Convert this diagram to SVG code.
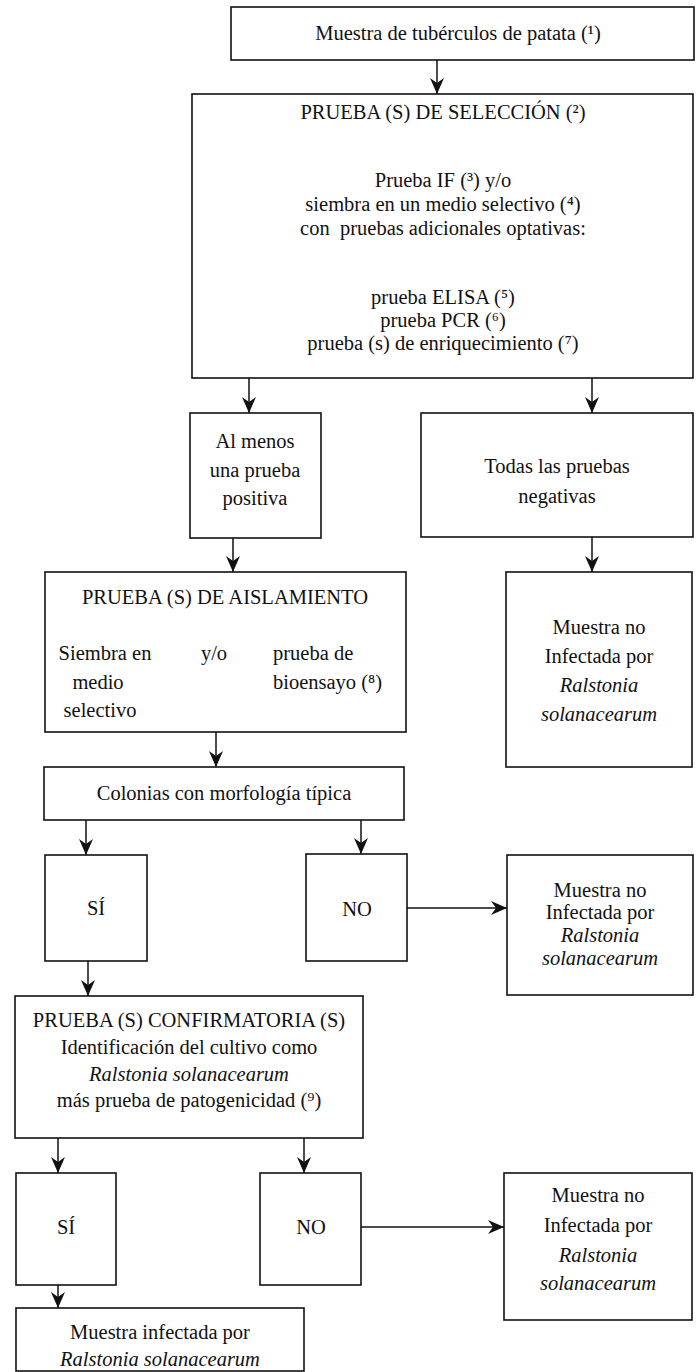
<svg xmlns="http://www.w3.org/2000/svg" width="699" height="1372" viewBox="0 0 699 1372">
<style>
.box{fill:#fff;stroke:#111;stroke-width:1.6}
.t{font-family:"Liberation Serif","Times New Roman","DejaVu Serif",serif;font-size:20.5px;fill:#111;text-anchor:middle}
.s{text-anchor:start}
.i{font-style:italic}
.c{fill:none;stroke:#111;stroke-width:1.5}
</style>
<defs>
<marker id="ah" viewBox="0 0 16 14" refX="16" refY="7" markerWidth="16" markerHeight="14" markerUnits="userSpaceOnUse" orient="auto">
<path d="M0,0 L16,7 L0,14 L5,7 Z" fill="#111"/>
</marker>
</defs>
<rect width="699" height="1372" fill="#fff"/>
<g id="connectors">
<line class="c" x1="437" y1="60" x2="437" y2="94" marker-end="url(#ah)"/>
<line class="c" x1="249" y1="378" x2="249" y2="413" marker-end="url(#ah)"/>
<line class="c" x1="592" y1="378" x2="592" y2="413" marker-end="url(#ah)"/>
<line class="c" x1="233" y1="538" x2="233" y2="572" marker-end="url(#ah)"/>
<line class="c" x1="592" y1="537" x2="592" y2="572" marker-end="url(#ah)"/>
<line class="c" x1="216" y1="732" x2="216" y2="767" marker-end="url(#ah)"/>
<line class="c" x1="86" y1="820" x2="86" y2="855" marker-end="url(#ah)"/>
<line class="c" x1="361" y1="820" x2="361" y2="854" marker-end="url(#ah)"/>
<line class="c" x1="407" y1="908" x2="507" y2="908" marker-end="url(#ah)"/>
<line class="c" x1="88" y1="961" x2="88" y2="996" marker-end="url(#ah)"/>
<line class="c" x1="58" y1="1138" x2="58" y2="1173" marker-end="url(#ah)"/>
<line class="c" x1="304" y1="1138" x2="304" y2="1173" marker-end="url(#ah)"/>
<line class="c" x1="361" y1="1227" x2="504" y2="1227" marker-end="url(#ah)"/>
<line class="c" x1="58" y1="1285" x2="58" y2="1308" marker-end="url(#ah)"/>
</g>
<g id="n-muestra">
<rect class="box" x="231" y="7" width="463" height="53"/>
<text class="t" x="458" y="40">Muestra de tubérculos de patata (¹)</text>
</g>
<g id="n-seleccion">
<rect class="box" x="192" y="94" width="501" height="284"/>
<text class="t" x="443" y="119">PRUEBA (S) DE SELECCIÓN (²)</text>
<text class="t" x="443" y="187">Prueba IF (³) y/o</text>
<text class="t" x="443" y="211">siembra en un medio selectivo (⁴)</text>
<text class="t" x="443" y="235">con&#160; pruebas adicionales optativas:</text>
<text class="t" x="443" y="304">prueba ELISA (⁵)</text>
<text class="t" x="443" y="327">prueba PCR (⁶)</text>
<text class="t" x="443" y="350">prueba (s) de enriquecimiento (⁷)</text>
</g>
<g id="n-positiva">
<rect class="box" x="190" y="413" width="131" height="125"/>
<text class="t" x="255" y="448">Al menos</text>
<text class="t" x="255" y="477">una prueba</text>
<text class="t" x="255" y="505">positiva</text>
</g>
<g id="n-negativas">
<rect class="box" x="421" y="413" width="272" height="124"/>
<text class="t" x="557" y="473">Todas las pruebas</text>
<text class="t" x="557" y="503">negativas</text>
</g>
<g id="n-aislamiento">
<rect class="box" x="45" y="572" width="361" height="160"/>
<text class="t" x="225" y="604">PRUEBA (S) DE AISLAMIENTO</text>
<text class="t" x="105" y="660">Siembra en</text>
<text class="t" x="214" y="660">y/o</text>
<text class="t s" x="273" y="660">prueba de</text>
<text class="t" x="98" y="689">medio</text>
<text class="t s" x="273" y="689">bioensayo (⁸)</text>
<text class="t" x="100" y="717">selectivo</text>
</g>
<g id="n-noinf1">
<rect class="box" x="506" y="572" width="186" height="195"/>
<text class="t" x="599" y="634">Muestra no</text>
<text class="t" x="599" y="663">Infectada por</text>
<text class="t i" x="599" y="692">Ralstonia</text>
<text class="t i" x="599" y="721">solanacearum</text>
</g>
<g id="n-colonias">
<rect class="box" x="44" y="767" width="360" height="53"/>
<text class="t" x="224" y="800">Colonias con morfología típica</text>
</g>
<g id="n-si1">
<rect class="box" x="45" y="855" width="102" height="106"/>
<text class="t" x="96" y="915">SÍ</text>
</g>
<g id="n-no1">
<rect class="box" x="306" y="854" width="101" height="107"/>
<text class="t" x="357" y="916">NO</text>
</g>
<g id="n-noinf2">
<rect class="box" x="507" y="855" width="186" height="140"/>
<text class="t" x="600" y="897">Muestra no</text>
<text class="t" x="600" y="919">Infectada por</text>
<text class="t i" x="600" y="942">Ralstonia</text>
<text class="t i" x="600" y="965">solanacearum</text>
</g>
<g id="n-confirmatoria">
<rect class="box" x="15" y="996" width="348" height="142"/>
<text class="t" x="189" y="1027">PRUEBA (S) CONFIRMATORIA (S)</text>
<text class="t" x="189" y="1054">Identificación del cultivo como</text>
<text class="t i" x="189" y="1081">Ralstonia solanacearum</text>
<text class="t" x="189" y="1107">más prueba de patogenicidad (⁹)</text>
</g>
<g id="n-si2">
<rect class="box" x="16" y="1173" width="100" height="112"/>
<text class="t" x="66" y="1234">SÍ</text>
</g>
<g id="n-no2">
<rect class="box" x="260" y="1173" width="101" height="112"/>
<text class="t" x="311" y="1234">NO</text>
</g>
<g id="n-noinf3">
<rect class="box" x="504" y="1173" width="188" height="147"/>
<text class="t" x="598" y="1202">Muestra no</text>
<text class="t" x="598" y="1232">Infectada por</text>
<text class="t i" x="598" y="1262">Ralstonia</text>
<text class="t i" x="598" y="1290">solanacearum</text>
</g>
<g id="n-infectada">
<rect class="box" x="16" y="1308" width="288" height="63"/>
<text class="t" x="160" y="1339">Muestra infectada por</text>
<text class="t i" x="160" y="1366">Ralstonia solanacearum</text>
</g>
</svg>
